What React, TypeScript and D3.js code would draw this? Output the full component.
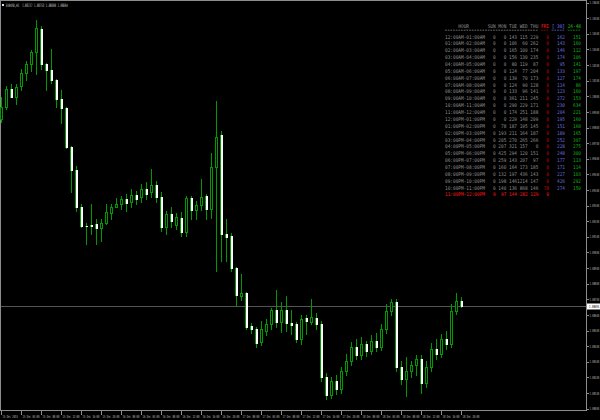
import React from 'react';
import * as d3 from 'd3';

// ---- Candles (EURUSD, H1), bar 0 = 15 Dec 2015 00:00 ----
const opens = [
  1.09892, 1.09973, 1.10084, 1.10037, 1.10105, 1.10191, 1.10249, 1.10325, 1.10472, 1.10244,
  1.10206, 1.10144, 1.10020, 1.09967, 1.09715, 1.09566, 1.09331, 1.09212, 1.09214, 1.09220,
  1.09199, 1.09226, 1.09295, 1.09333, 1.09348, 1.09380, 1.09361, 1.09406, 1.09393, 1.09444,
  1.09425, 1.09470, 1.09393, 1.09201, 1.09284, 1.09214, 1.09263, 1.09173, 1.09386, 1.09310,
  1.09342, 1.09401, 1.09320, 1.09589, 1.09790, 1.09156, 1.09145, 1.08943, 1.08761, 1.08778,
  1.08567, 1.08548, 1.08465, 1.08535, 1.08585, 1.08670, 1.08595, 1.08670, 1.08586, 1.08580,
  1.08484, 1.08618, 1.08597, 1.08618, 1.08580, 1.08241, 1.08126, 1.08215, 1.08164, 1.08279,
  1.08343, 1.08433, 1.08382, 1.08452, 1.08407, 1.08471, 1.08433, 1.08548, 1.08663, 1.08721,
  1.08305, 1.08228, 1.08279, 1.08318, 1.08356, 1.08202, 1.08305, 1.08420, 1.08388, 1.08484,
  1.08452, 1.08663, 1.08727,
];
const highs = [
  1.10033, 1.10105, 1.10116, 1.10116, 1.10212, 1.10265, 1.10334, 1.10526, 1.10489, 1.10255,
  1.10340, 1.10148, 1.10080, 1.09973, 1.09721, 1.09593, 1.09348, 1.09226, 1.09348, 1.09252,
  1.09252, 1.09348, 1.09348, 1.09386, 1.09399, 1.09412, 1.09444, 1.09431, 1.09476, 1.09489,
  1.09572, 1.09495, 1.09425, 1.09303, 1.09329, 1.09290, 1.09297, 1.09401, 1.09401, 1.09369,
  1.09512, 1.09412, 1.09679, 1.10007, 1.09817, 1.09256, 1.09162, 1.08949, 1.08900, 1.08787,
  1.08586, 1.08561, 1.08599, 1.08612, 1.08682, 1.08798, 1.08723, 1.08759, 1.08672, 1.08593,
  1.08638, 1.08638, 1.08740, 1.08650, 1.08599, 1.08266, 1.08241, 1.08254, 1.08305, 1.08388,
  1.08465, 1.08484, 1.08497, 1.08471, 1.08510, 1.08522, 1.08580, 1.08708, 1.08740, 1.08740,
  1.08343, 1.08369, 1.08343, 1.08382, 1.08382, 1.08343, 1.08458, 1.08484, 1.08516, 1.08535,
  1.08708, 1.08778, 1.08753,
];
const lows = [
  1.09873, 1.09956, 1.10033, 1.09988, 1.10080, 1.10142, 1.10201, 1.10180, 1.10212, 1.10080,
  1.10127, 1.09973, 1.09871, 1.09711, 1.09427, 1.09305, 1.09204, 1.09092, 1.09156, 1.09092,
  1.09111, 1.09220, 1.09252, 1.09329, 1.09316, 1.09303, 1.09329, 1.09348, 1.09361, 1.09380,
  1.09393, 1.09361, 1.09175, 1.09156, 1.09201, 1.09188, 1.09145, 1.09145, 1.09252, 1.09252,
  1.09310, 1.09252, 1.09258, 1.08921, 1.08985, 1.08985, 1.08921, 1.08697, 1.08736, 1.08548,
  1.08522, 1.08433, 1.08446, 1.08510, 1.08548, 1.08561, 1.08529, 1.08535, 1.08516, 1.08465,
  1.08452, 1.08516, 1.08580, 1.08548, 1.08215, 1.08100, 1.08106, 1.08132, 1.08138, 1.08254,
  1.08318, 1.08356, 1.08356, 1.08375, 1.08388, 1.08407, 1.08414, 1.08522, 1.08638, 1.08279,
  1.08196, 1.08119, 1.08241, 1.08254, 1.08138, 1.08177, 1.08279, 1.08356, 1.08369, 1.08420,
  1.08433, 1.08644, 1.08690,
];
const closes = [
  1.09973, 1.10084, 1.10037, 1.10099, 1.10191, 1.10249, 1.10325, 1.10479, 1.10244, 1.10208,
  1.10142, 1.10020, 1.09967, 1.09715, 1.09566, 1.09331, 1.09209, 1.09207, 1.09208, 1.09199,
  1.09231, 1.09299, 1.09333, 1.09348, 1.09380, 1.09354, 1.09406, 1.09380, 1.09444, 1.09412,
  1.09470, 1.09393, 1.09201, 1.09284, 1.09239, 1.09265, 1.09173, 1.09386, 1.09310, 1.09342,
  1.09397, 1.09320, 1.09589, 1.09781, 1.09156, 1.09141, 1.08943, 1.08768, 1.08783, 1.08565,
  1.08548, 1.08458, 1.08548, 1.08585, 1.08670, 1.08595, 1.08670, 1.08586, 1.08577, 1.08484,
  1.08617, 1.08601, 1.08629, 1.08580, 1.08241, 1.08126, 1.08215, 1.08164, 1.08279, 1.08343,
  1.08433, 1.08382, 1.08452, 1.08407, 1.08471, 1.08433, 1.08548, 1.08663, 1.08721, 1.08305,
  1.08228, 1.08279, 1.08318, 1.08356, 1.08202, 1.08305, 1.08420, 1.08388, 1.08484, 1.08452,
  1.08663, 1.08727, 1.08694,
];

const symbolTitle = 'EURUSD,H1  1.08727 1.08753 1.08690 1.08694';
const bidPrice = 1.08694;

const timeLabels = [
  '15 Dec 2015', '15 Dec 04:00', '15 Dec 08:00', '15 Dec 12:00', '15 Dec 16:00', '15 Dec 20:00',
  '16 Dec 00:00', '16 Dec 04:00', '16 Dec 08:00', '16 Dec 12:00', '16 Dec 16:00', '16 Dec 20:00',
  '17 Dec 00:00', '17 Dec 04:00', '17 Dec 08:00', '17 Dec 12:00', '17 Dec 16:00', '17 Dec 20:00',
  '18 Dec 00:00', '18 Dec 04:00', '18 Dec 08:00', '18 Dec 12:00', '18 Dec 16:00', '18 Dec 20:00',
];
const timeLabelBars = [0, 4, 8, 12, 16, 20, 24, 28, 32, 36, 40, 44, 48, 52, 56, 60, 64, 68, 72, 76, 80, 84, 88, 92];

const priceTicks = [
  1.0804, 1.0814, 1.0824, 1.0834, 1.0844, 1.0854, 1.0864, 1.0874, 1.0884, 1.0894,
  1.0904, 1.0914, 1.0924, 1.0934, 1.0944, 1.0954, 1.0964, 1.0974, 1.0984, 1.0994,
  1.1004, 1.1014, 1.1024, 1.1034, 1.1044, 1.1054, 1.1064,
];

// ---- Hourly table ----
const hourLabels = [
  '12:00AM-01:00AM', '01:00AM-02:00AM', '02:00AM-03:00AM', '03:00AM-04:00AM', '04:00AM-05:00AM',
  '05:00AM-06:00AM', '06:00AM-07:00AM', '07:00AM-08:00AM', '08:00AM-09:00AM', '09:00AM-10:00AM',
  '10:00AM-11:00AM', '11:00AM-12:00AM', '12:00PM-01:00PM', '01:00PM-02:00PM', '02:00PM-03:00PM',
  '03:00PM-04:00PM', '04:00PM-05:00PM', '05:00PM-06:00PM', '06:00PM-07:00PM', '07:00PM-08:00PM',
  '08:00PM-09:00PM', '09:00PM-10:00PM', '10:00PM-11:00PM', '11:00PM-12:00PM',
];
const sunVals = [0, 0, 0, 0, 0, 0, 0, 0, 0, 0, 0, 0, 0, 0, 0, 0, 0, 0, 0, 0, 0, 0, 0, 0];
const monVals = [0, 0, 0, 0, 0, 0, 0, 0, 0, 0, 0, 0, 0, 78, 193, 205, 207, 425, 259, 160, 132, 198, 140, 97];
const tueVals = [143, 106, 165, 156, 80, 124, 139, 124, 133, 361, 290, 174, 229, 187, 211, 270, 321, 294, 143, 164, 197, 1461, 136, 144];
const wedVals = [115, 60, 100, 130, 119, 77, 70, 90, 96, 211, 229, 251, 148, 195, 164, 265, 157, 120, 207, 173, 436, 214, 868, 282];
const thuVals = [229, 262, 174, 235, 87, 204, 173, 128, 141, 245, 171, 188, 209, 145, 187, 266, 0, 151, 97, 185, 143, 147, 146, 129];
const friVals = [0, 0, 0, 0, 0, 0, 0, 0, 0, 0, 0, 0, 0, 0, 0, 0, 0, 0, 0, 0, 0, 0, 78, 0];
const avg30Vals: (number | null)[] = [162, 143, 146, 174, 95, 133, 127, 114, 123, 272, 230, 204, 195, 151, 189, 252, 228, 248, 177, 171, 227, 426, 274, null];
const d2448Vals: (number | null)[] = [151, 160, 112, 106, 141, 197, 174, 86, 160, 153, 634, 221, 160, 168, 165, 307, 275, 300, 113, 114, 103, 292, 150, null];
const currentRow = 23;

const GREEN = '#009a00';
const CW = 8 / 3; // monospace char width in table
const TX0 = 445;
const MONO_EM = 0.602;

// Text squeezed horizontally (via transform) to a target width, so its box is the drawn box.
function FitText(props: { x: number; y: number; str: string; width: number; fs: number; fill: string }) {
  const { x, y, str, width, fs, fill } = props;
  const natural = str.length * MONO_EM * fs;
  const sx = width / natural;
  return (
    <text
      transform={`translate(${x},${y}) scale(${sx.toFixed(4)},1)`}
      fontFamily="DejaVu Sans Mono"
      fontSize={fs}
      fill={fill}
      style={{ whiteSpace: 'pre' }}
    >
      {str}
    </text>
  );
}

function App() {
  const x = d3.scaleLinear().domain([0, 92]).range([1, 461]);
  const p0 = 1.106567;
  const pxPer = 0.00006404;
  const y = d3.scaleLinear().domain([p0, p0 - 420 * pxPer]).range([0, 420]);

  const candles = opens.map((o, i) => {
    const cx = Math.round(x(i));
    const c = closes[i];
    const yh = Math.round(y(highs[i]));
    const yl = Math.round(y(lows[i]));
    const top = Math.round(y(Math.max(o, c)));
    const bot = Math.round(y(Math.min(o, c)));
    const bull = c >= o;
    const h = Math.max(1, bot - top + 1);
    return (
      <g key={i}>
        <rect x={cx} y={yh} width={1} height={Math.max(1, yl - yh + 1)} fill={GREEN} />
        {bull ? (
          <>
            <rect x={cx - 1} y={top} width={3} height={h} fill={GREEN} />
            {h > 2 && <rect x={cx} y={top + 1} width={1} height={h - 2} fill="#000" />}
          </>
        ) : (
          <>
            <rect x={cx - 1} y={top} width={3} height={h} fill={GREEN} />
            <rect x={cx} y={top} width={2} height={h} fill="#fff" />
          </>
        )}
      </g>
    );
  });

  const mono = (str: string, startChar: number, cy: number, fill: string, key: string) => (
    <FitText key={key} x={TX0 + startChar * CW} y={cy + 1.9} str={str} width={str.length * CW} fs={5.2} fill={fill} />
  );
  const numCell = (v: number | null, endChar: number, cy: number, fill: string, key: string) => {
    if (v === null) return null;
    const s = String(v);
    const start = s.length <= 3 ? endChar - s.length + 1 : endChar - 2;
    return mono(s, start, cy, fill, key);
  };

  const headerY = 25.7;
  const rowY = (k: number) => 36.7 + 6.86 * k;
  const GRAY = '#8e8e8e';
  const RED = '#d00000';
  const BLUE = '#6a6ad8';
  const TGREEN = '#10b010';

  const tableRows = hourLabels.map((lab, k) => {
    const cy = rowY(k);
    const cur = k === currentRow;
    const col = cur ? '#ff1a1a' : GRAY;
    return (
      <g key={'r' + k}>
        {mono(lab, 0, cy, col, 'l' + k)}
        {numCell(sunVals[k], 18, cy, col, 's' + k)}
        {numCell(monVals[k], 22, cy, col, 'm' + k)}
        {numCell(tueVals[k], 26, cy, col, 't' + k)}
        {numCell(wedVals[k], 30, cy, col, 'w' + k)}
        {numCell(thuVals[k], 34, cy, col, 'h' + k)}
        {numCell(friVals[k], 38, cy, cur ? '#ff1a1a' : RED, 'f' + k)}
        {numCell(avg30Vals[k], 44, cy, BLUE, 'a' + k)}
        {numCell(d2448Vals[k], 50, cy, TGREEN, 'd' + k)}
      </g>
    );
  });

  const bidY = Math.round(y(bidPrice)) + 0.5;

  return (
    <svg width={600} height={420} style={{ position: 'fixed', left: 0, top: 0 }}>
      <rect x={0} y={0} width={600} height={420} fill="#000" />
      {/* frame */}
      <rect x={0.5} y={0.5} width={586} height={410} fill="none" stroke="#8c8c8c" strokeWidth={1} />
      {/* bid line */}
      <line x1={1} x2={586} y1={bidY} y2={bidY} stroke="#555" strokeWidth={1} />
      {candles}
      {/* title */}
      <rect x={2} y={4} width={2} height={2} fill="#e0e0e0" />
      <FitText x={6} y={6.8} str={symbolTitle} width={62} fs={4.6} fill="#cfcfcf" />
      {/* table header */}
      {mono('HOUR', 5, headerY, GRAY, 'hh')}
      {mono('SUN', 16, headerY, GRAY, 'hs')}
      {mono('MON', 20, headerY, GRAY, 'hm')}
      {mono('TUE', 24, headerY, GRAY, 'ht')}
      {mono('WED', 28, headerY, GRAY, 'hw')}
      {mono('THU', 32, headerY, GRAY, 'hu')}
      {mono('FRI', 36, headerY, '#ff2020', 'hf')}
      {mono('[ 30]', 40, headerY, '#7474ff', 'ha')}
      {mono('24-48', 46, headerY, '#20c020', 'hd')}
      <line x1={TX0} x2={TX0 + 35 * CW} y1={30.2} y2={30.2} stroke={GRAY} strokeWidth={0.7} strokeDasharray="1.8 0.87" />
      <line x1={TX0 + 36 * CW} x2={TX0 + 39 * CW} y1={30.2} y2={30.2} stroke={RED} strokeWidth={0.7} strokeDasharray="1.8 0.87" />
      <line x1={TX0 + 40 * CW} x2={TX0 + 45 * CW} y1={30.2} y2={30.2} stroke={BLUE} strokeWidth={0.7} strokeDasharray="1.8 0.87" />
      <line x1={TX0 + 46 * CW} x2={TX0 + 51 * CW} y1={30.2} y2={30.2} stroke={TGREEN} strokeWidth={0.7} strokeDasharray="1.8 0.87" />
      {tableRows}
      {/* price axis */}
      {priceTicks.map((p, i) => {
        const yy = y(p);
        return (
          <g key={'p' + i}>
            <line x1={586} x2={589} y1={Math.round(yy) + 0.5} y2={Math.round(yy) + 0.5} stroke="#8c8c8c" />
            <FitText x={589.5} y={yy + 1.6} str={p.toFixed(5)} width={9.8} fs={4.2} fill="#bdbdbd" />
          </g>
        );
      })}
      <rect x={587} y={bidY - 3} width={13} height={6} fill="#fff" />
      <FitText x={589} y={bidY + 1.6} str={bidPrice.toFixed(5)} width={10.3} fs={4.2} fill="#000" />
      {/* time axis */}
      {timeLabels.map((lab, i) => {
        const tx = Math.round(x(timeLabelBars[i]));
        return (
          <g key={'t' + i}>
            <line x1={tx + 0.5} x2={tx + 0.5} y1={411} y2={415} stroke="#8c8c8c" />
            <FitText x={tx + 1.5} y={417.5} str={lab} width={lab.length === 11 ? 15.5 : 17} fs={4.2} fill="#bdbdbd" />
          </g>
        );
      })}
    </svg>
  );
}

export default App;
